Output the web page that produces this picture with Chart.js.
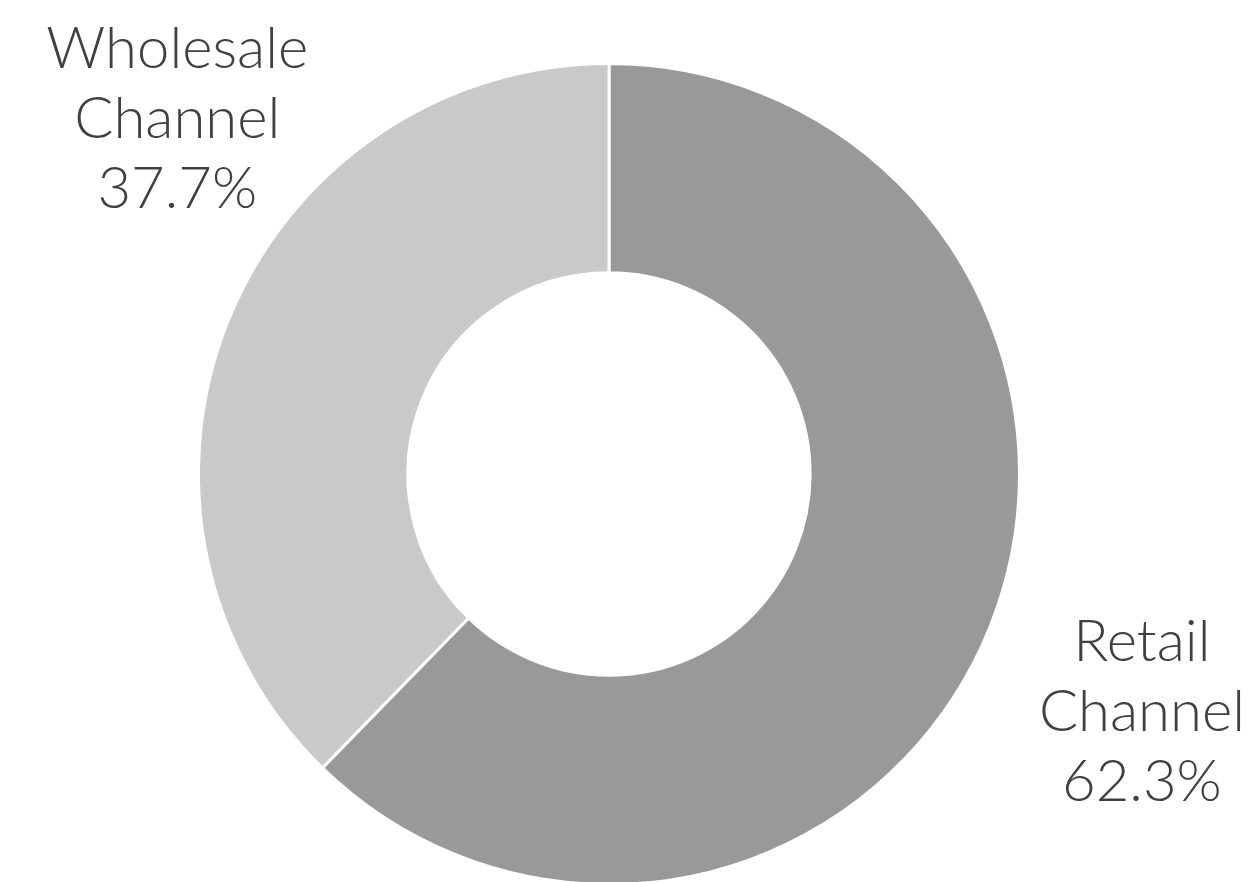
<!DOCTYPE html>
<html>
<head>
<meta charset="utf-8">
<script src="https://cdn.jsdelivr.net/npm/chart.js@4/dist/chart.umd.min.js"></script>
<style>
    html, body { margin: 0; padding: 0; background: #ffffff; overflow: hidden; }
    #chart { display: block; }
</style>
</head>
<body>
<canvas id="chart" width="1255" height="900"></canvas>
<script>
// 채널별 매출 비중
const channels = ['Retail Channel', 'Wholesale Channel'];
const shares = [62.3, 37.7];
const sliceColors = ['#999999', '#c9c9c9'];

// 라벨 위치 (차트 중심 기준 각도(도), 바깥 반지름 대비 거리)
const labelAngles = [23.9, 219.6];
const labelDistances = [1.42, 1.365];

// 조각 바깥쪽에 이름 + 비율 라벨 그리는 플러그인
const outsideLabels = {
    id: 'outsideLabels',
    afterDatasetsDraw(chart) {
        const ctx = chart.ctx;
        const meta = chart.getDatasetMeta(0);
        const values = chart.data.datasets[0].data;
        ctx.save();
        ctx.fillStyle = '#404040';
        ctx.font = '300 58px Lato';
        ctx.textAlign = 'center';
        ctx.textBaseline = 'alphabetic';
        meta.data.forEach((arc, i) => {
            const rad = labelAngles[i] * Math.PI / 180;
            const dist = arc.outerRadius * labelDistances[i];
            const cx = arc.x + Math.cos(rad) * dist;
            const cy = arc.y + Math.sin(rad) * dist;
            const lines = chart.data.labels[i].split(' ');
            lines.push(values[i].toFixed(1) + '%');
            const step = 70;
            const firstBase = cy + 21 - step;  // 가운데 줄이 cy에 오도록
            lines.forEach((txt, k) => {
                ctx.fillText(txt, cx, firstBase + k * step);
            });
        });
        ctx.restore();
    }
};

const chart = new Chart(document.getElementById('chart'), {
    type: 'doughnut',
    data: {
        labels: channels,
        datasets: [{
            data: shares,
            backgroundColor: sliceColors,
            borderColor: '#ffffff',
            borderWidth: 3,
            hoverOffset: 0
        }]
    },
    options: {
        responsive: false,
        devicePixelRatio: 1,
        animation: false,
        cutout: '49%',
        rotation: 0,
        layout: {
            padding: { left: 197, right: 234, top: 62, bottom: 14 }
        },
        plugins: {
            legend: { display: false },
            tooltip: { enabled: false }
        }
    },
    plugins: [outsideLabels]
});
</script>
</body>
</html>
